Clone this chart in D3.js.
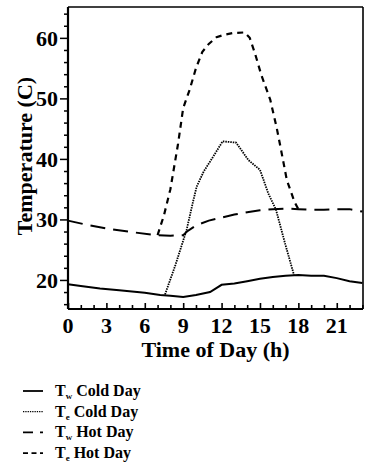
<!DOCTYPE html>
<html>
<head>
<meta charset="utf-8">
<script src="https://cdn.jsdelivr.net/npm/d3@7"></script>
<style>
  body { margin: 0; background: #fff; }
  text { font-family: "Liberation Serif", "Times New Roman", serif; fill: #000; }
</style>
</head>
<body>
<div id="chart"></div>
<script>
// hours (h) and temperatures (C)
var twColdHours = [0, 1, 2.5, 4, 6, 7.2, 8, 9, 10, 11.1, 12, 13, 14, 15, 16, 17, 18, 19, 20, 21, 22, 23];
var twColdTemps = [19.3, 19.0, 18.6, 18.3, 17.9, 17.5, 17.4, 17.2, 17.5, 18.0, 19.2, 19.4, 19.8, 20.2, 20.5, 20.7, 20.8, 20.7, 20.7, 20.3, 19.8, 19.5];

var teColdHours = [7.58, 8.4, 9.27, 9.8, 10.05, 10.6, 11.35, 12.08, 13.13, 14.1, 15.0, 15.65, 16.25, 16.95, 17.66];
var teColdTemps = [17.6, 22.5, 28.3, 33.2, 35.4, 37.9, 40.4, 42.9, 42.7, 39.8, 38.2, 34.3, 31.6, 26.1, 20.8];

var twHotHours = [0, 1.5, 3.3, 5, 6.9, 8, 9, 9.3, 10, 11, 12, 13, 14, 15, 16, 17, 18, 19, 20, 21, 22, 23];
var twHotTemps = [29.8, 29.1, 28.4, 27.9, 27.4, 27.3, 27.4, 28.0, 29.0, 29.8, 30.3, 30.8, 31.2, 31.5, 31.7, 31.8, 31.7, 31.6, 31.6, 31.7, 31.7, 31.3];

var teHotHours = [7, 7.5, 8, 8.6, 9, 9.5, 10, 10.5, 11, 11.6, 12.2, 12.9, 13.8, 14.2, 14.6, 15.1, 15.8, 16.3, 16.6, 17.1, 17.7, 18.0];
var teHotTemps = [27.4, 30.7, 35, 42.5, 48.4, 51.4, 55, 57.7, 59, 60.1, 60.5, 60.8, 60.9, 60, 57.5, 53.9, 49.8, 45.2, 42, 36.5, 32.9, 31.7];

var xTicks = [0, 3, 6, 9, 12, 15, 18, 21];
var yTicks = [20, 30, 40, 50, 60];

var series = [
  { sub: "w", label: "Cold Day", hours: twColdHours, temps: twColdTemps, dash: null, width: 2, legDash: null },
  { sub: "e", label: "Cold Day", hours: teColdHours, temps: teColdTemps, dash: "1.5,1", width: 1.8, legDash: "1.3,1" },
  { sub: "w", label: "Hot Day", hours: twHotHours, temps: twHotTemps, dash: "15,8", width: 2, legDash: "10,7" },
  { sub: "e", label: "Hot Day", hours: teHotHours, temps: teHotTemps, dash: "6,5", width: 2.2, legDash: "5,3.5" }
];

var margin = { top: 7, right: 4, bottom: 156, left: 68 };
var width = 367 - margin.left - margin.right;
var height = 465 - margin.top - margin.bottom;

var svg = d3.select("#chart")
    .append("svg")
    .attr("width", 367)
    .attr("height", 465);

var g = svg.append("g")
    .attr("transform", "translate(" + margin.left + "," + margin.top + ")");

var x = d3.scaleLinear().domain([0, 23.05]).range([0, width]);
var y = d3.scaleLinear().domain([15.2, 65.1]).range([height, 0]);

// frame (top + right thin)
g.append("line").attr("x1", 0).attr("x2", width).attr("y1", 0).attr("y2", 0)
  .attr("stroke", "#000").attr("stroke-width", 1.4);
g.append("line").attr("x1", width).attr("x2", width).attr("y1", 0).attr("y2", height)
  .attr("stroke", "#000").attr("stroke-width", 1.6);

// x axis: minor ticks every hour, pointing inward
var xAxis = g.append("g").attr("transform", "translate(0," + height + ")");
xAxis.call(d3.axisBottom(x).tickValues(d3.range(0, 24)).tickSize(-4).tickFormat(""));
xAxis.select(".domain").remove();
xAxis.selectAll(".tick line").attr("stroke-width", 1.6);
xAxis.selectAll(".tick").filter(function(d) { return d % 3 === 0; })
  .select("line").attr("y2", -6);
xAxis.append("line").attr("x1", 0).attr("x2", width).attr("y1", 0).attr("y2", 0)
  .attr("stroke", "#000").attr("stroke-width", 2.2);
xAxis.selectAll(".xlab").data(xTicks).enter().append("text")
  .attr("x", function(d) { return x(d); })
  .attr("y", 24)
  .attr("text-anchor", "middle")
  .style("font-size", "22px")
  .style("font-weight", "bold")
  .text(function(d) { return d; });

// y axis: minor ticks every 2, outward
var yAxis = g.append("g");
yAxis.call(d3.axisLeft(y).tickValues(d3.range(16, 66, 2)).tickSize(4).tickFormat(""));
yAxis.select(".domain").remove();
yAxis.selectAll(".tick line").attr("stroke-width", 1.5);
yAxis.selectAll(".tick").filter(function(d) { return d % 10 === 0; })
  .select("line").attr("x2", -8);
yAxis.append("line").attr("x1", 0).attr("x2", 0).attr("y1", 0).attr("y2", height)
  .attr("stroke", "#000").attr("stroke-width", 2.2);
yAxis.selectAll(".ylab").data(yTicks).enter().append("text")
  .attr("x", -10)
  .attr("y", function(d) { return y(d) + 8; })
  .attr("text-anchor", "end")
  .style("font-size", "22px")
  .style("font-weight", "bold")
  .text(function(d) { return d; });

// axis titles
svg.append("text")
  .attr("x", margin.left + width / 2)
  .attr("y", 357)
  .attr("text-anchor", "middle")
  .style("font-size", "22px")
  .style("font-weight", "bold")
  .text("Time of Day (h)");

svg.append("text")
  .attr("transform", "translate(32,156) rotate(-90)")
  .attr("text-anchor", "middle")
  .style("font-size", "22px")
  .style("font-weight", "bold")
  .text("Temperature (C)");

// lines
var line = d3.line()
  .x(function(d) { return x(d[0]); })
  .y(function(d) { return y(d[1]); });

series.forEach(function(s) {
  var pts = d3.zip(s.hours, s.temps);
  g.append("path")
    .datum(pts)
    .attr("d", line)
    .attr("fill", "none")
    .attr("stroke", "#000")
    .attr("stroke-width", s.width)
    .attr("stroke-dasharray", s.dash);
});

// legend
var legend = svg.append("g");
var rows = legend.selectAll("g.row").data(series).enter().append("g")
  .attr("transform", function(d, i) { return "translate(0," + (396 + i * 20.7) + ")"; });

rows.append("line")
  .attr("x1", 23).attr("x2", 43).attr("y1", -5).attr("y2", -5)
  .attr("stroke", "#000")
  .attr("stroke-width", function(d) { return d.width === 1.8 ? 1.3 : 1.8; })
  .attr("stroke-dasharray", function(d) { return d.legDash; });

var lt = rows.append("text")
  .attr("x", 55)
  .attr("y", 0)
  .style("font-size", "16px")
  .style("font-weight", "bold");
lt.append("tspan").text("T");
lt.append("tspan").attr("dy", 3).style("font-size", "9px").text(function(d) { return d.sub; });
lt.append("tspan").attr("dy", -3).text(function(d) { return " " + d.label; });
</script>
</body>
</html>
